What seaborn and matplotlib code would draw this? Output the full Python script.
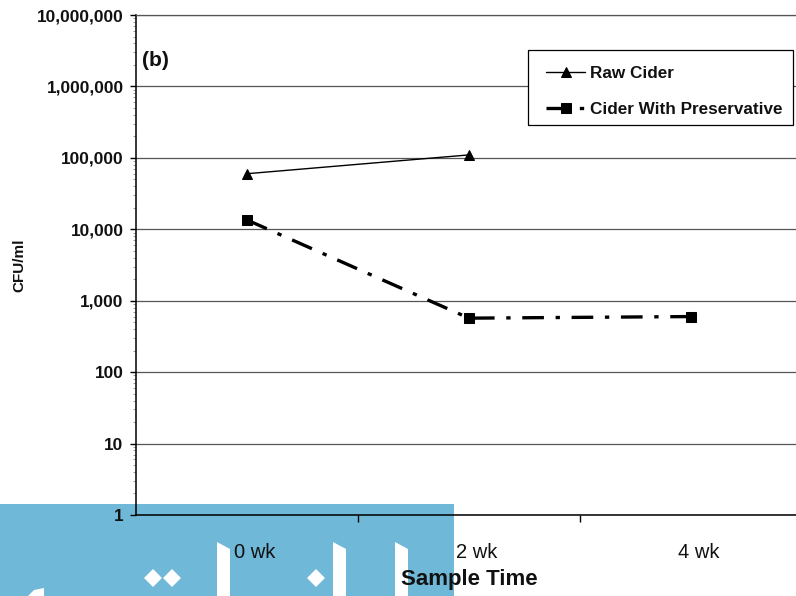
import numpy as np
import pandas as pd
import seaborn as sns
import matplotlib.pyplot as plt
from matplotlib.patches import Rectangle, Polygon
from matplotlib.transforms import ScaledTranslation
from matplotlib.ticker import FixedLocator, FuncFormatter, LogLocator, NullFormatter

# Sampling schedule and plate counts (CFU/ml)
weeks = ["0 wk", "2 wk", "4 wk"]
raw_cider = [60000, 110000, np.nan]
cider_with_preservative = [13500, 570, 600]

raw_df = pd.DataFrame({"week": weeks, "cfu": raw_cider}).dropna()
pres_df = pd.DataFrame({"week": weeks, "cfu": cider_with_preservative})

sns.set_theme(style="white")
plt.rcParams["font.family"] = ["Liberation Sans", "DejaVu Sans"]

W, H = 796, 596
fig = plt.figure(figsize=(W / 100, H / 100), dpi=100)
fig.patch.set_facecolor("white")


def fx(x):
    return x / W


def fy(y):
    return 1 - y / H


# plot area: left edge at 136 px, bottom at 515 px, 222 px per category
AX_L, AX_B, AX_W, AX_H = 136, 515, 666, 500
ax = fig.add_axes([fx(AX_L), fy(AX_B), AX_W / W, AX_H / H])
ax.set_facecolor("none")


def axx(x):
    return (x - AX_L) / AX_W


def axy(y):
    return (AX_B - y) / AX_H


# blue banner behind the lower-left corner
fig.add_artist(Rectangle((0, fy(596)), fx(454), 92 / H, transform=fig.transFigure,
                         facecolor="#6FB8D8", edgecolor="none", zorder=-2))


def white_shape(pts):
    fig.add_artist(Polygon([(fx(x), fy(y)) for x, y in pts], closed=True,
                           transform=fig.transFigure, facecolor="white",
                           edgecolor="none", zorder=-1))


for x0 in (217, 333, 395):
    white_shape([(x0, 542), (x0 + 13, 549), (x0 + 13, 596), (x0, 596)])
for cx, cy in ((153, 578), (172, 578), (316, 578)):
    white_shape([(cx - 9, cy), (cx, cy - 9), (cx + 9, cy), (cx, cy + 9)])
white_shape([(28, 596), (34, 590), (44, 588), (44, 596)])

sns.lineplot(data=raw_df, x="week", y="cfu", ax=ax, color="black", lw=1.0,
             marker="^", markersize=7.5, markeredgecolor="black",
             label="Raw Cider", sort=False)
sns.lineplot(data=pres_df, x="week", y="cfu", ax=ax, color="black", lw=2.4,
             marker="s", markersize=7, markeredgecolor="black",
             label="Cider With Preservative", sort=False)
ax.lines[-1].set_dashes([6.5, 3.5, 1.3, 3.5])

ax.set_yscale("log")
ax.set_ylim(1, 1e7)
ax.set_xlim(-0.5, 2.5)

ax.yaxis.set_major_locator(FixedLocator([10 ** k for k in range(8)]))
ax.yaxis.set_major_formatter(FuncFormatter(lambda v, p: f"{int(round(v)):,}"))
ax.yaxis.set_minor_locator(LogLocator(base=10, subs=np.arange(2, 10)))
ax.yaxis.set_minor_formatter(NullFormatter())
ax.tick_params(axis="y", which="major", direction="out", length=4, width=1,
               color="black", labelsize=12.4, pad=5, left=True,
               labelcolor="#111111")
ax.tick_params(axis="y", which="minor", direction="out", length=2, width=0.5,
               color="#777777", left=True)
for t in ax.get_yticklabels():
    t.set_fontweight("bold")

ax.set_xticks(range(len(weeks)))
ax.set_xticklabels(weeks)
ax.xaxis.set_minor_locator(FixedLocator([0.5, 1.5]))
ax.tick_params(axis="x", which="major", length=0, labelsize=14.5, pad=20,
               labelcolor="#111111")
ax.tick_params(axis="x", which="minor", direction="out", length=5, width=1,
               color="black", bottom=True)
shift = ScaledTranslation(8 / 100, 0, fig.dpi_scale_trans)
for t in ax.get_xticklabels():
    t.set_transform(t.get_transform() + shift)

ax.yaxis.grid(True, which="major", color="#555555", lw=0.9)
ax.xaxis.grid(False)

for side in ("left", "bottom"):
    ax.spines[side].set_color("black")
    ax.spines[side].set_linewidth(1.1)
ax.spines["top"].set_color("#555555")
ax.spines["top"].set_linewidth(0.9)
ax.spines["right"].set_visible(False)

ax.set_xlabel("Sample Time", fontsize=16, fontweight="bold", color="#111111")
ax.xaxis.set_label_coords(0.5, axy(579))
ax.xaxis.label.set_va("center")
ax.set_ylabel("CFU/ml", fontsize=11, fontweight="bold", color="#111111")
ax.yaxis.set_label_coords(axx(19), 0.5)
ax.yaxis.label.set_va("center")

ax.text(0.009, axy(61), "(b)", transform=ax.transAxes, fontsize=15,
        fontweight="bold", va="center", ha="left", color="#111111")

# legend box, then the entries inside it
ax.add_patch(Rectangle((axx(528), axy(125)), axx(793) - axx(528), axy(50) - axy(125),
                       transform=ax.transAxes, facecolor="white", edgecolor="black",
                       lw=0.9, zorder=4, clip_on=False))
leg = ax.legend(loc="upper left", bbox_to_anchor=(axx(546), axy(66)),
                borderaxespad=0, borderpad=0, frameon=False,
                prop={"weight": "bold", "size": 12.3},
                handlelength=2.3, handletextpad=0.3, labelspacing=1.2)
leg.set_zorder(5)
for t in leg.get_texts():
    t.set_color("#111111")

fig.savefig("out.png", dpi=100)
